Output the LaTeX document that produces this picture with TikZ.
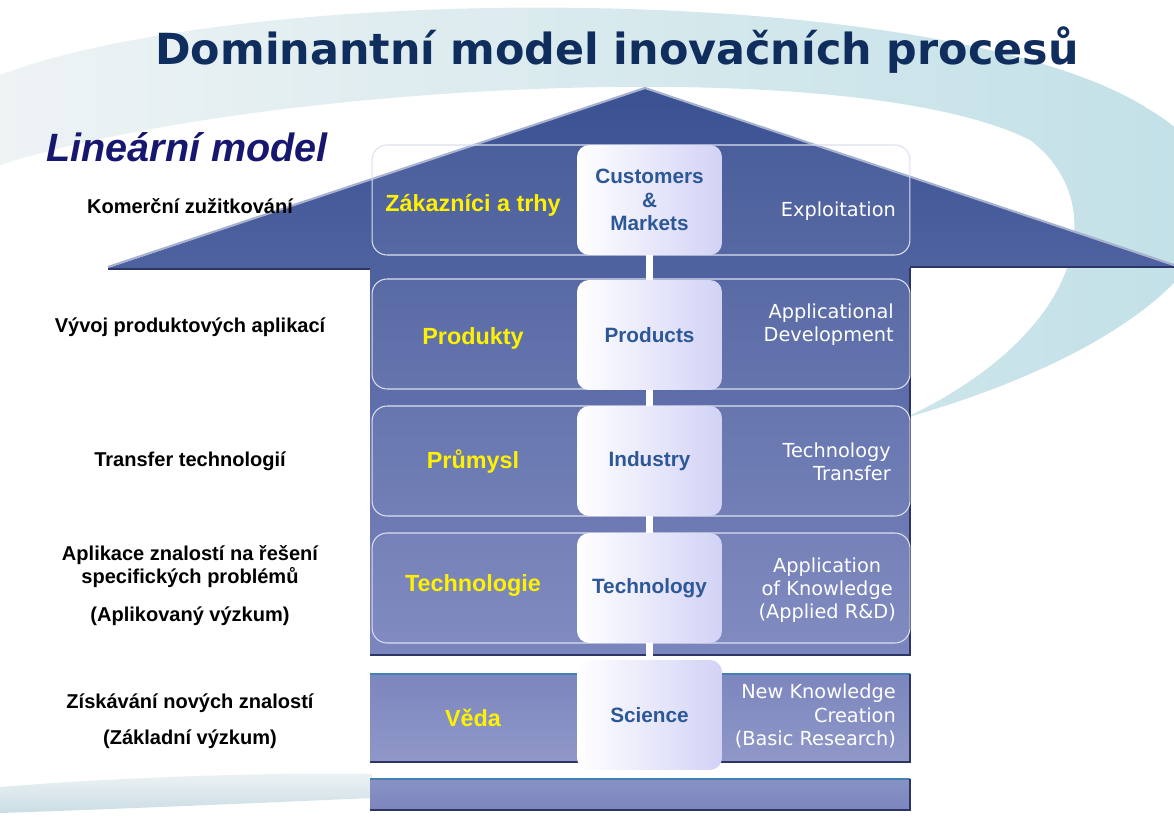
\documentclass[tikz,border=0pt]{standalone}
\usepackage{fontspec}
\setmainfont{Liberation Sans}
\newfontfamily\verdana{DejaVu Sans}

\definecolor{titleblue}{HTML}{0F2E5E}
\definecolor{modelblue}{HTML}{17176F}
\definecolor{rooftop}{HTML}{3A5192}
\definecolor{bodymid}{HTML}{5262A0}
\definecolor{bodylow}{HTML}{7C86BE}
\definecolor{shadowblue}{HTML}{2C3565}
\definecolor{midtext}{HTML}{2D5796}
\definecolor{lavender}{HTML}{D2D2F6}
\definecolor{rowline}{HTML}{DCE0EE}
\definecolor{swooshlight}{HTML}{EEF3F4}
\definecolor{swooshdark}{HTML}{BEDFE6}
\definecolor{swooshgray}{HTML}{CADDE4}

\begin{document}
\begin{tikzpicture}[x=0.02cm, y=-0.02cm,
    title/.style={font=\verdana\bfseries\fontsize{24.4}{28}\selectfont, text=titleblue},
    label/.style={font=\bfseries\fontsize{11.4}{13.2}\selectfont, align=center},
    czech/.style={font=\bfseries\fontsize{13.3}{16}\selectfont, text=yellow},
    eng/.style={font=\verdana\fontsize{11}{13.2}\selectfont, text=white, anchor=east},
    rowbox/.style={draw=rowline, line width=0.6pt, rounded corners=0.3cm,
        fill=white, fill opacity=0.05, minimum width=10.76cm, minimum height=2.2cm},
    midbox/.style={rounded corners=0.24cm, left color=white, right color=lavender,
        minimum width=2.9cm, minimum height=2.2cm, align=center, text=midtext,
        font=\bfseries\fontsize{11.8}{13.4}\selectfont},
    link/.style={draw=white, line width=4pt}]

    \useasboundingbox (0,0) rectangle (1174,821);

    % background swooshes
    \shade[left color=swooshlight, right color=swooshdark]
        (905,418) .. controls (1180,340) and (1300,200) .. (1150,110)
        .. controls (950,-20) and (250,-20) .. (0,75) -- (0,165)
        .. controls (250,85) and (850,50) .. (1030,140)
        .. controls (1110,200) and (1090,330) .. (905,418) -- cycle;
    \shade[top color=swooshlight, bottom color=swooshgray]
        (0,787) .. controls (120,777) and (280,772) .. (372,774) -- (372,798)
        .. controls (280,802) and (120,809) .. (0,813) -- cycle;

    % house: roof and body
    \shade[top color=rooftop, middle color=bodymid, bottom color=bodylow]
        (645,88) -- (1174,266) -- (910,266) -- (910,655) -- (370,655)
        -- (370,268) -- (108,268) -- cycle;
    \draw[white!55!rooftop, line width=1.2pt, line join=round]
        (108,267) -- (645,88) -- (1174,265);
    \draw[shadowblue, line width=1.5pt]
        (108,269) -- (370,269) (910,267) -- (1174,267)
        (910,268) -- (910,655) -- (370,655);

    % lower bars
    \shade[top color=bodylow, bottom color=bodylow!85!white] (370,673) rectangle (910,762);
    \draw[bodymid!80!cyan, line width=1.5pt] (370,674) -- (910,674);
    \draw[shadowblue, line width=1.5pt] (370,762) -- (910,762) -- (910,674);
    \shade[top color=bodylow!90!white, bottom color=bodylow] (370,778) rectangle (910,810);
    \draw[bodymid!80!cyan, line width=1.5pt] (370,779) -- (910,779);
    \draw[shadowblue, line width=1.5pt] (370,810) -- (910,810) -- (910,779);

    % rows
    \foreach \i/\y in {1/200, 2/334, 3/461, 4/588}
        \node[rowbox] (r\i) at (641,\y) {};

    % middle column
    \node[midbox] (c1) at (649.5,200) {Customers\\\&\\Markets};
    \node[midbox] (c2) at (649.5,335) {Products};
    \node[midbox] (c3) at (649.5,461) {Industry};
    \node[midbox] (c4) at (649.5,588) {Technology};
    \node[midbox] (c5) at (649.5,715) {Science};
    \foreach \a/\b in {c1/c2, c2/c3, c3/c4, c4/c5}
        \draw[link] (\a) -- (\b);

    % titles
    \node[title] (title) at (617,50) {Dominantní model inovačních procesů};
    \node[font=\bfseries\itshape\fontsize{22.5}{26}\selectfont, text=modelblue] (model) at (187,147) {Lineární model};

    % czech names
    \node[czech] (z1) at (473,205) {Zákazníci a trhy};
    \node[czech] (z2) at (473,338) {Produkty};
    \node[czech] (z3) at (473,462) {Průmysl};
    \node[czech] (z4) at (473,586) {Technologie};
    \node[czech] (z5) at (473,718) {Věda};

    % english descriptions
    \node[eng, align=right] (e1) at (902,211) {Exploitation};
    \node[eng, align=right] (e2) at (900,325) {Applicational\\Development};
    \node[eng, align=right] (e3) at (897,462) {Technology\\Transfer};
    \node[eng, align=center] (e4) at (902,590) {Application\\of Knowledge\\(Applied R\&D)};
    \node[eng, align=right] (e5) at (902,716) {New Knowledge\\Creation\\(Basic Research)};

    % stage labels
    \node[label] (l1) at (190,206) {Komerční zužitkování};
    \node[label] (l2) at (190,327) {Vývoj produktových aplikací};
    \node[label] (l3) at (190,461) {Transfer technologií};
    \node[label] (l4) at (190,567) {Aplikace znalostí na řešení\\specifických problémů};
    \node[label] (l4b) at (190,616) {(Aplikovaný výzkum)};
    \node[label] (l5) at (190,703) {Získávání nových znalostí};
    \node[label] (l5b) at (190,739) {(Základní výzkum)};
\end{tikzpicture}
\end{document}
